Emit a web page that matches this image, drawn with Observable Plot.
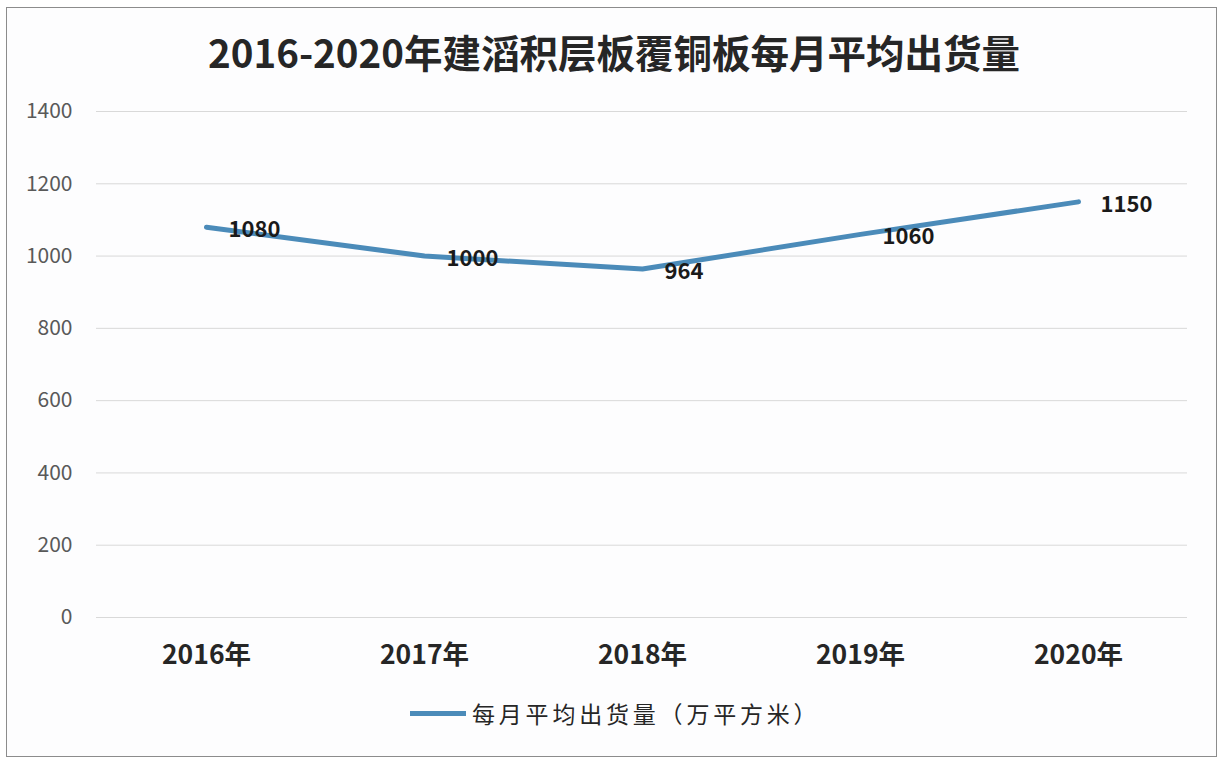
<!DOCTYPE html>
<html><head><meta charset="utf-8">
<script src="https://cdn.jsdelivr.net/npm/d3@7"></script>
<script src="https://cdn.jsdelivr.net/npm/@observablehq/plot@0.6"></script>
<style>
html,body{margin:0;padding:0;background:#fff;}
#wrap{position:relative;width:1228px;height:766px;overflow:hidden;background:#fff;font-family:"Noto Sans CJK SC","Noto Sans",sans-serif;}
#frame{position:absolute;left:6px;top:7px;width:1209px;height:748px;border:1.5px solid #8c8c8c;background:#fdfdfe;}
#title{position:absolute;left:0;width:1228px;top:32px;text-align:center;font-size:38.5px;font-weight:bold;color:#262626;line-height:1;}
#chart{position:absolute;left:0;top:90px;}
#legend{position:absolute;top:696px;left:410px;display:flex;align-items:center;font-size:23px;color:#262626;letter-spacing:3.8px;}
#legend .sw{width:56px;height:5px;background:#4b8bb9;margin-right:6px;}
</style></head>
<body><div id="wrap">
<div id="frame"></div>
<div id="title">2016-2020年建滔积层板覆铜板每月平均出货量</div>
<div id="chart"></div>
<div id="legend"><span class="sw"></span><span>每月平均出货量（万平方米）</span></div>
</div>
<script>
const years = ["2016年","2017年","2018年","2019年","2020年"];
const values = [1080, 1000, 964, 1060, 1150];
const yTicks = [0, 200, 400, 600, 800, 1000, 1200, 1400];
const seriesName = "每月平均出货量（万平方米）";

const data = years.map((y, i) => ({year: y, value: values[i]}));

const chart = Plot.plot({
  width: 1228,
  height: 590,
  marginLeft: 96,
  marginRight: 41,
  marginTop: 21,
  marginBottom: 63,
  style: {background: "transparent", fontFamily: "'Noto Sans CJK SC','Noto Sans',sans-serif"},
  x: {type: "point", domain: years, padding: 0.5, label: null},
  y: {domain: [0, 1400], ticks: yTicks, label: null},
  marks: [
    Plot.gridY(yTicks, {stroke: "#d9d9d9", strokeOpacity: 1, strokeWidth: 1}),
    Plot.axisY(yTicks, {tickSize: 0, tickPadding: 24, fontSize: 21, fill: "#595959", label: null, tickFormat: d => String(d)}),
    Plot.axisX({tickSize: 0, tickPadding: 28, fontSize: 26.5, fontWeight: "bold", fill: "#262626", label: null}),
    Plot.line(data, {x: "year", y: "value", stroke: "#4b8bb9", strokeWidth: 5, strokeLinecap: "round", strokeLinejoin: "round"}),
    Plot.text(data, {x: "year", y: "value", text: d => String(d.value), dx: 22, dy: 3, textAnchor: "start", fontSize: 22, fontWeight: "bold", fill: "#1a1a1a"})
  ]
});
document.getElementById("chart").appendChild(chart);
</script>
</body></html>
